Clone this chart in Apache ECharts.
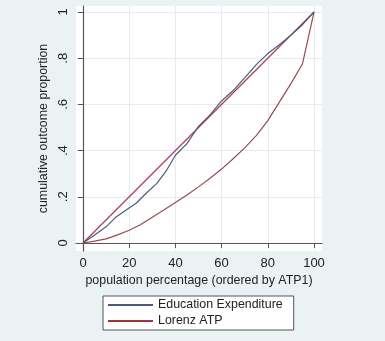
<!DOCTYPE html>
<html>
<head>
<meta charset="utf-8">
<script src="https://cdn.jsdelivr.net/npm/echarts@6/dist/echarts.min.js"></script>
<style>
  html, body { margin: 0; padding: 0; background: #eaf2f3; }
  #chart { width: 385px; height: 341px; }
</style>
</head>
<body>
<div id="chart"></div>
<script>
// Population percentage (ordered by ATP1) and cumulative shares
const popEdu = [0, 5, 10, 14, 19, 23, 27, 32, 36, 40, 45, 48, 50, 55, 60, 65, 70, 75, 80, 85, 90, 95, 100];
const eduExpenditure = [0, 0.035, 0.070, 0.110, 0.145, 0.172, 0.212, 0.258, 0.312, 0.380, 0.430, 0.475, 0.505, 0.555, 0.615, 0.660, 0.715, 0.772, 0.820, 0.858, 0.900, 0.945, 1];

const popLorenz = [0, 5, 10, 15, 20, 25, 30, 35, 40, 45, 50, 55, 60, 65, 70, 75, 80, 85, 90, 95, 100];
const lorenzATP = [0, 0.008, 0.018, 0.035, 0.055, 0.080, 0.112, 0.143, 0.175, 0.208, 0.243, 0.280, 0.320, 0.365, 0.412, 0.465, 0.530, 0.610, 0.690, 0.775, 1];

const popEquality = [0, 100];
const equalityLine = [0, 1];

const xTicks = [0, 20, 40, 60, 80, 100];
const yTicks = [0, 0.2, 0.4, 0.6, 0.8, 1];
const yTickLabels = ['0', '.2', '.4', '.6', '.8', '1'];

const zip = (xs, ys) => xs.map((x, i) => [x, ys[i]]);

const FONT = 'Liberation Sans, Arial, sans-serif';
const chart = echarts.init(document.getElementById('chart'), null, { renderer: 'canvas' });

chart.setOption({
  backgroundColor: '#eaf2f3',
  animation: false,
  grid: {
    left: 76, right: 63, top: 6, bottom: 90,
    show: true, backgroundColor: '#ffffff', borderWidth: 0
  },
  xAxis: {
    type: 'value',
    min: -3.03, max: 103.46,
    name: 'population percentage (ordered by ATP1)',
    nameLocation: 'middle',
    nameGap: 22,
    nameTextStyle: { fontFamily: FONT, fontSize: 12.4, color: '#222' },
    axisLine: { show: true, lineStyle: { color: '#555', width: 1.2 } },
    axisTick: { show: true, length: 5, customValues: xTicks, lineStyle: { color: '#555' } },
    axisLabel: { customValues: xTicks, margin: 6, fontFamily: FONT, fontSize: 13, color: '#222' },
    splitLine: { show: true, lineStyle: { color: '#e3ecef', width: 1 } }
  },
  yAxis: {
    type: 'value',
    min: -0.0346, max: 1.026,
    name: 'cumulative outcome proportion',
    nameLocation: 'middle',
    nameRotate: 90,
    nameGap: 20,
    nameTextStyle: { fontFamily: FONT, fontSize: 12.4, color: '#222' },
    axisLine: { show: true, lineStyle: { color: '#555', width: 1.2 } },
    axisTick: { show: true, length: 5, customValues: yTicks, lineStyle: { color: '#555' } },
    axisLabel: {
      customValues: yTicks, rotate: 90, margin: 6,
      fontFamily: FONT, fontSize: 13, color: '#222',
      formatter: v => yTickLabels[yTicks.findIndex(t => Math.abs(t - v) < 1e-9)] ?? ''
    },
    splitLine: { show: true, lineStyle: { color: '#e3ecef', width: 1 } }
  },
  legend: {
    orient: 'vertical',
    left: 103, top: 296,
    data: ['Education Expenditure', 'Lorenz ATP'],
    backgroundColor: '#ffffff',
    borderColor: '#555', borderWidth: 1,
    padding: [3, 11, 3, 5],
    itemGap: 4,
    itemWidth: 45, itemHeight: 2,
    icon: 'rect',
    textStyle: { fontFamily: FONT, fontSize: 12.4, color: '#222' }
  },
  series: [
    {
      name: 'Education Expenditure', type: 'line', data: zip(popEdu, eduExpenditure),
      showSymbol: false, lineStyle: { color: '#4b5b7b', width: 1.2 }, itemStyle: { color: '#4b5b7b' }, z: 3
    },
    {
      name: 'Lorenz ATP', type: 'line', data: zip(popLorenz, lorenzATP),
      showSymbol: false, lineStyle: { color: '#9c4a50', width: 1.2 }, itemStyle: { color: '#a3323f' }, z: 2
    },
    {
      name: 'Equality', type: 'line', data: zip(popEquality, equalityLine),
      showSymbol: false, lineStyle: { color: '#b0365e', width: 1.2 }, itemStyle: { color: '#b0365e' }, z: 2
    }
  ]
});
</script>
</body>
</html>
